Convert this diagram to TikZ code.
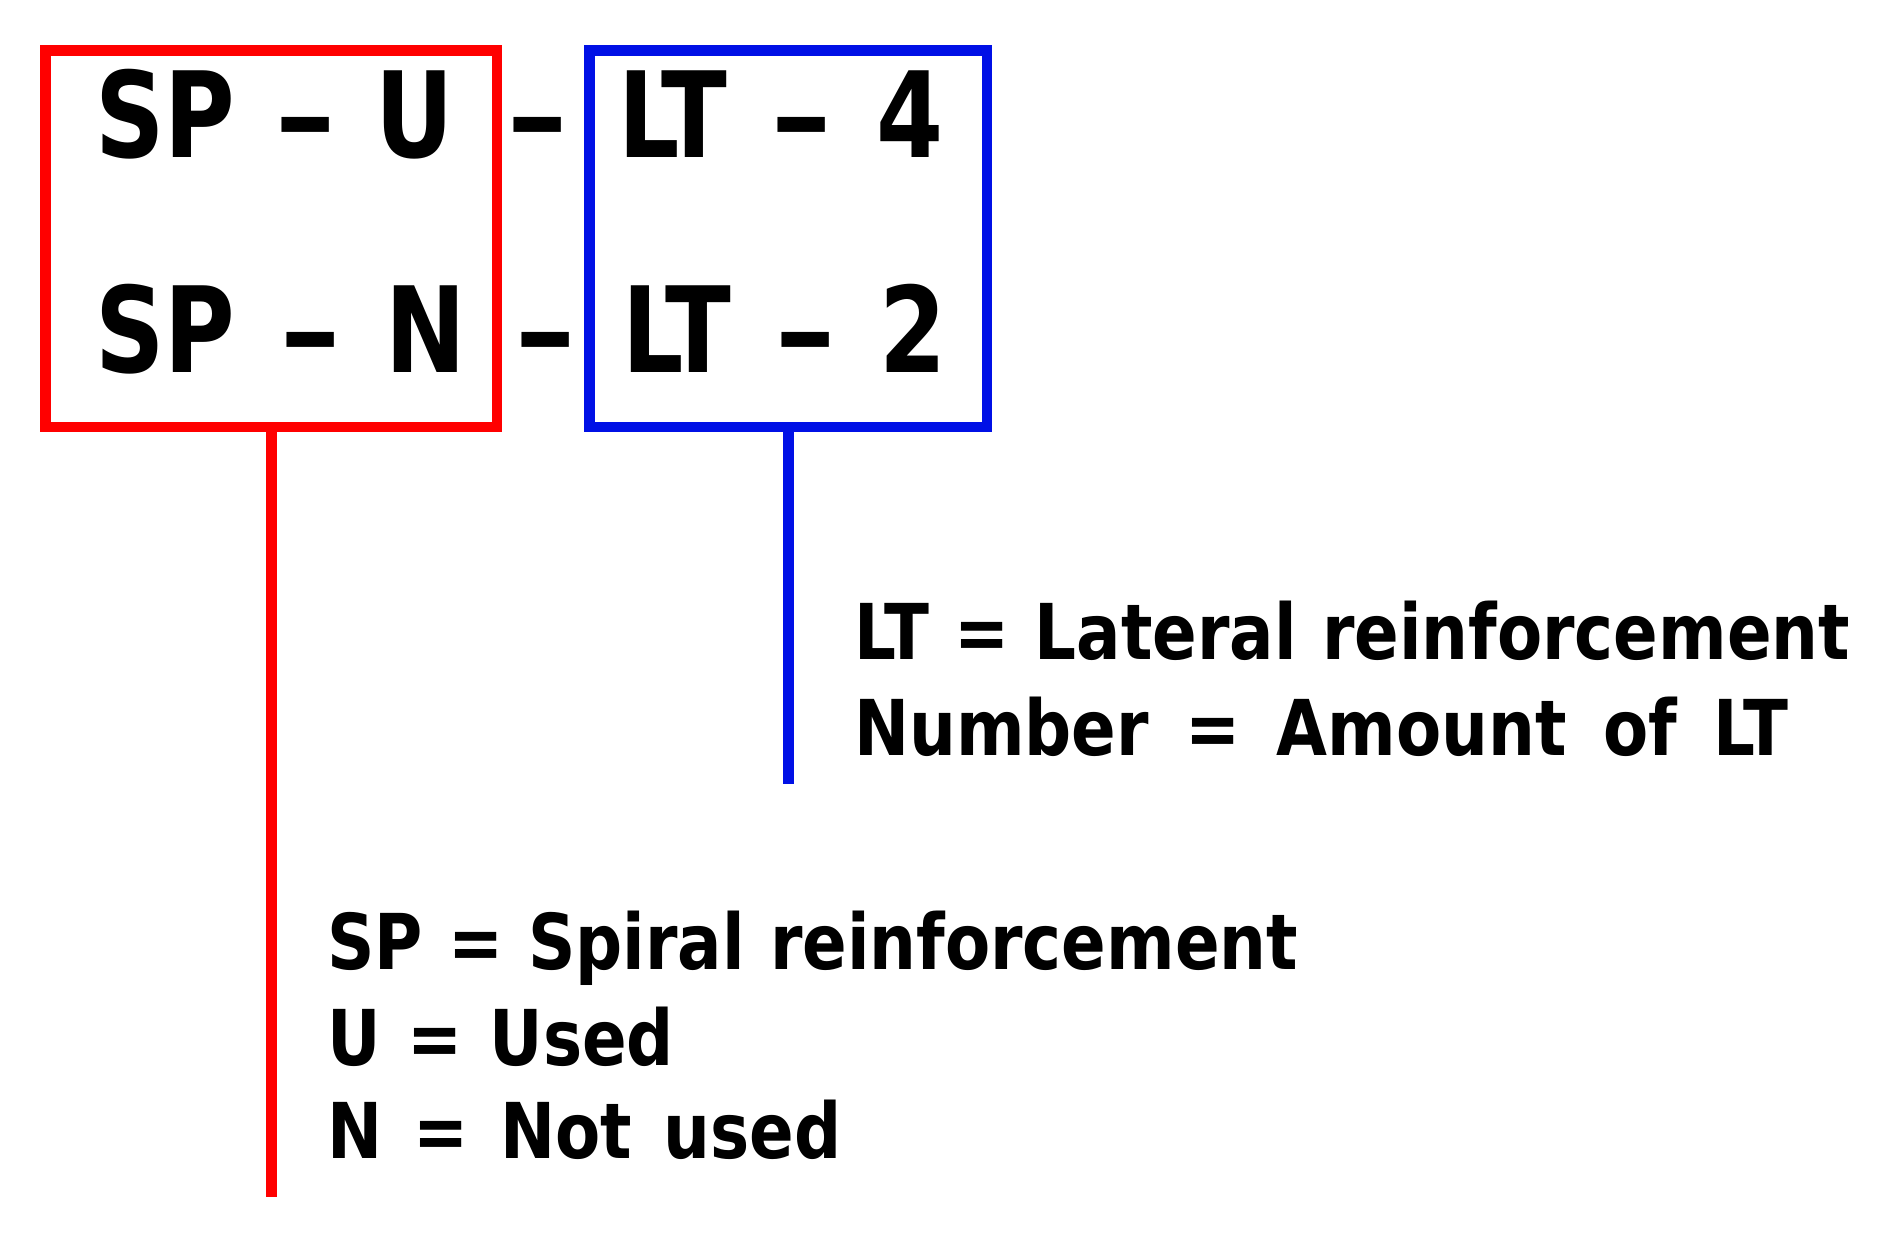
\documentclass[tikz,border=0pt]{standalone}
\usepackage{fontspec}
\newfontfamily\labfont{DejaVu Sans Condensed Bold}[FakeStretch=0.9]
\newfontfamily\legfont{DejaVu Sans Condensed Bold}[FakeStretch=0.95]
\definecolor{frred}{RGB}{255,0,0}
\definecolor{frblue}{RGB}{0,16,230}
\newcommand{\dsh}{\scalebox{1.25}[1]{–}}
\begin{document}
\begin{tikzpicture}[x=1pt,y=-1pt,
  boxframe/.style={draw=#1, line width=10.5pt, inner sep=0pt, minimum height=376.5pt},
  big/.style={anchor=base west, inner sep=0pt, font=\fontsize{119}{140}\labfont},
  legend/.style={anchor=base west, inner sep=0pt, font=\fontsize{77}{95}\legfont},
  lead/.style={draw=#1, line width=11pt}]
\useasboundingbox (0,0) rectangle (1897,1240);
\node[boxframe=frred, minimum width=451.5pt] (redbox) at (271,238.5) {};
\node[boxframe=frblue, minimum width=397.5pt] (bluebox) at (788,238.5) {};
\node[big] (spu) at (95,157) {\makebox[359pt][s]{SP \dsh{} U}};
\node[big] (spn) at (95,372) {\makebox[371pt][s]{SP \dsh{} N}};
\node[big] (d1) at (507,157) {\dsh};
\node[big] (d2) at (515,372) {\dsh};
\node[big] (lt4) at (618,157) {\makebox[325pt][s]{LT \dsh{} 4}};
\node[big] (lt2) at (622,372) {\makebox[324pt][s]{LT \dsh{} 2}};
\coordinate (rend) at (270,1197);
\coordinate (bend) at (788.5,784);
\draw[lead=frred] (redbox.south) -- (redbox.south |- rend);
\draw[lead=frblue] (bluebox.south) -- (bluebox.south |- bend);
\node[legend] (lt) at (854,659) {\makebox[996pt][s]{LT = Lateral reinforcement}};
\node[legend] (num) at (854,755) {\makebox[934pt][s]{Number = Amount of LT}};
\node[legend] (sp) at (327,969) {\makebox[971pt][s]{SP = Spiral reinforcement}};
\node[legend] (u) at (327,1065) {\makebox[347pt][s]{U = Used}};
\node[legend] (n) at (327,1158) {\makebox[514pt][s]{N = Not used}};
\end{tikzpicture}
\end{document}
